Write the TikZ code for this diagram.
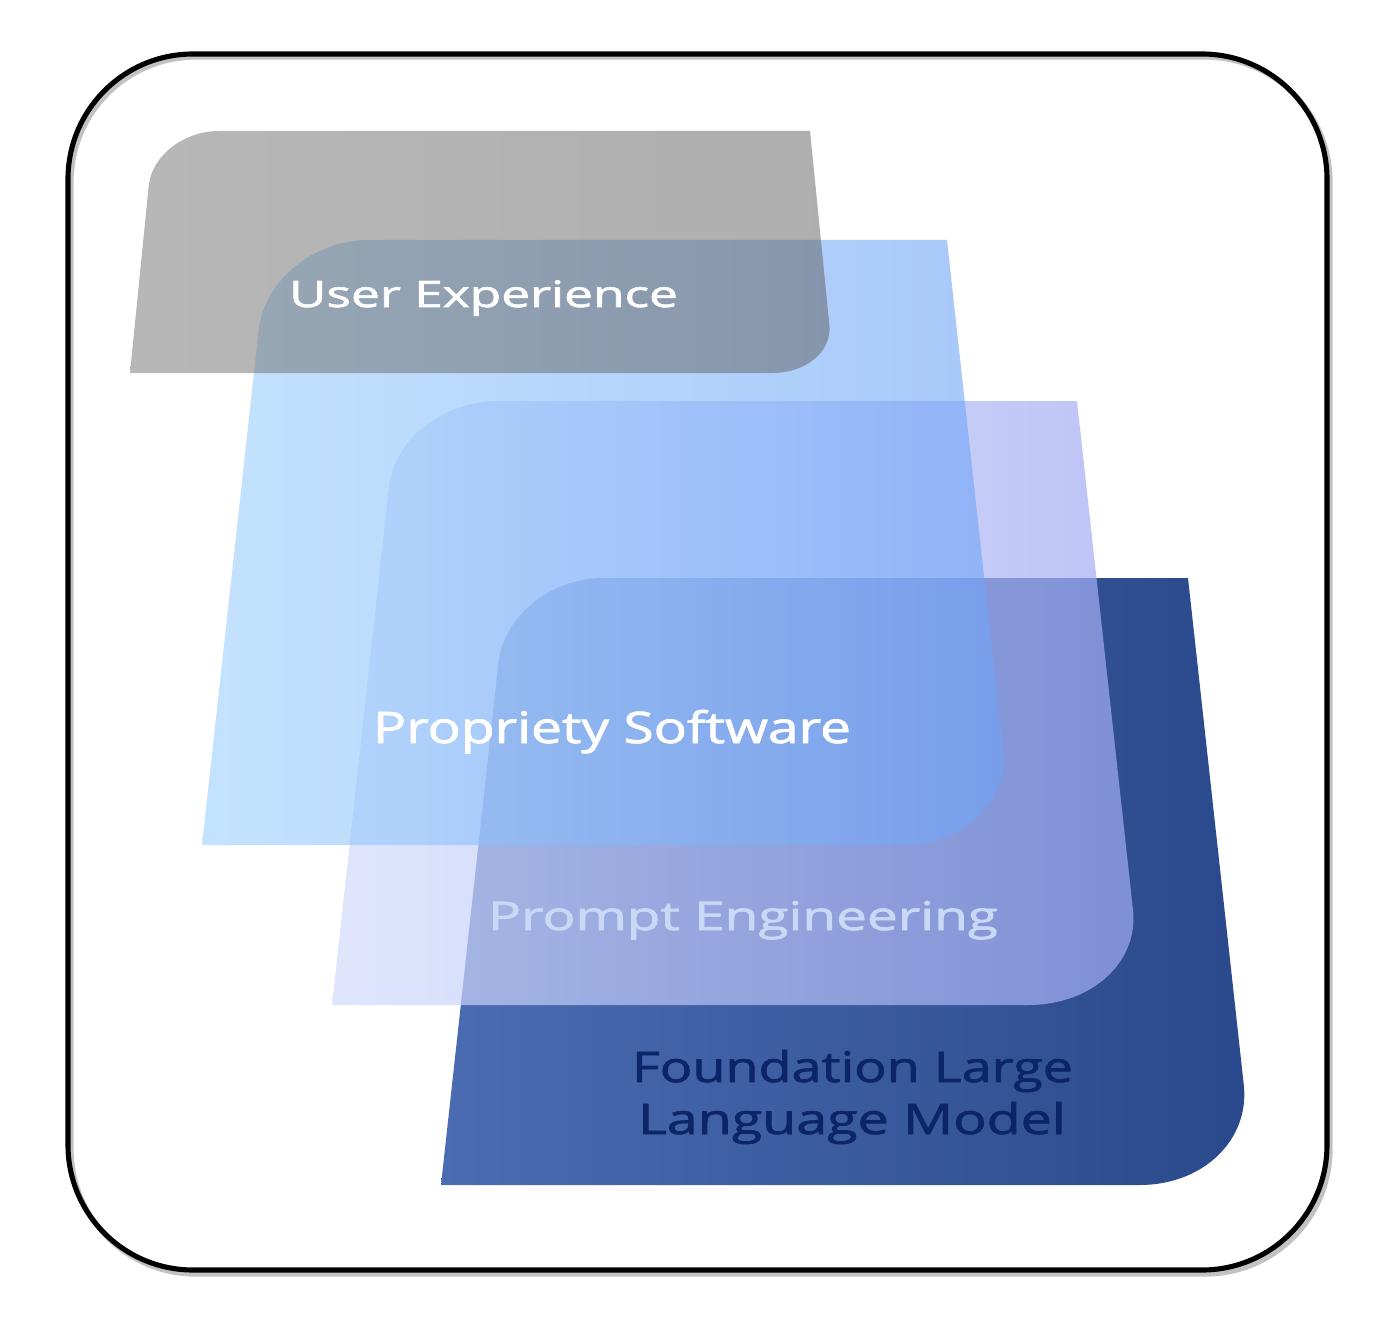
\documentclass[tikz,border=0pt]{standalone}
\usepackage{fontspec}
\usepackage{graphicx}
\usetikzlibrary{calc}
\newfontfamily\labfont{Open Sans}[FakeBold=1.6]
\definecolor{frameshadow}{HTML}{9A9A9A}
\definecolor{gL}{HTML}{717171}
\definecolor{gR}{HTML}{5F5F5F}
\definecolor{bL}{HTML}{9DD0FC}
\definecolor{bR}{HTML}{6EA3F8}
\definecolor{pL}{HTML}{D1DBFB}
\definecolor{pR}{HTML}{A2ACF4}
\definecolor{dL}{HTML}{4B6CB2}
\definecolor{dR}{HTML}{2A498C}
\definecolor{navy}{HTML}{0C2566}
\definecolor{pale}{HTML}{C8D9F6}
\begin{document}
\begin{tikzpicture}[x=0.02cm,y=-0.02cm,
  lab/.style={inner sep=0pt, anchor=base},
  slab/.style={draw=none}]
\fill[white] (0,0) rectangle (1400,1338);
\useasboundingbox (0,0) rectangle (1400,1338);
% outer frame
\draw[frameshadow, line width=3pt, rounded corners=2.5cm, opacity=0.6] (71,57) rectangle (1330,1274);
\draw[black, line width=2.9pt, rounded corners=2.5cm] (68,54) rectangle (1327,1270);

% ---------- layer 4 (dark blue)
\coordinate (dBL) at (441,1185);
\coordinate (dTLc) at (507.8,578);
\coordinate (dP1) at (498.4,663);
\coordinate (dP2) at (602.8,578);
\coordinate (dTR) at (1188,578);
\coordinate (dBRc) at (1254.8,1185);
\coordinate (dQ1) at (1243.8,1085);
\coordinate (dQ2) at (1139.8,1185);
\shade[slab, left color=dL, right color=dR]
  (dBL) -- (dP1) .. controls ($(dP1)!0.55!(dTLc)$) and ($(dP2)!0.55!(dTLc)$) .. (dP2)
  -- (dTR) -- (dQ1) .. controls ($(dQ1)!0.55!(dBRc)$) and ($(dQ2)!0.55!(dBRc)$) .. (dQ2) -- cycle;
\node[lab, text=navy, font=\labfont\fontsize{24}{28}\selectfont] (fl1) at (852.5,1082) {\resizebox{8.82cm}{\height}{Foundation Large}};
\node[lab, text=navy, font=\labfont\fontsize{24}{28}\selectfont] (fl2) at (852,1134) {\resizebox{8.56cm}{\height}{Language Model}};

% ---------- layer 3 (lavender)
\coordinate (pBL) at (332,1005);
\coordinate (pTLc) at (398.4,401);
\coordinate (pP1) at (389.1,486);
\coordinate (pP2) at (498.4,401);
\coordinate (pTR) at (1077,401);
\coordinate (pBRc) at (1143.4,1005);
\coordinate (pQ1) at (1133,910);
\coordinate (pQ2) at (1028.4,1005);
\shade[slab, left color=pL, right color=pR, fill opacity=0.7]
  (pBL) -- (pP1) .. controls ($(pP1)!0.55!(pTLc)$) and ($(pP2)!0.55!(pTLc)$) .. (pP2)
  -- (pTR) -- (pQ1) .. controls ($(pQ1)!0.55!(pBRc)$) and ($(pQ2)!0.55!(pBRc)$) .. (pQ2) -- cycle;
\node[lab, text=pale, font=\labfont\fontsize{22.5}{26}\selectfont] (pe) at (743,930) {\resizebox{10.2cm}{\height}{Prompt Engineering}};

% ---------- layer 2 (light blue)
\coordinate (bBL) at (202,845);
\coordinate (bTLc) at (268.6,240);
\coordinate (bP1) at (258.7,330);
\coordinate (bP2) at (368.6,240);
\coordinate (bTR) at (947,240);
\coordinate (bBRc) at (1013.6,845);
\coordinate (bQ1) at (1003.1,750);
\coordinate (bQ2) at (903.6,845);
\shade[slab, left color=bL, right color=bR, fill opacity=0.6]
  (bBL) -- (bP1) .. controls ($(bP1)!0.55!(bTLc)$) and ($(bP2)!0.55!(bTLc)$) .. (bP2)
  -- (bTR) -- (bQ1) .. controls ($(bQ1)!0.55!(bBRc)$) and ($(bQ2)!0.55!(bBRc)$) .. (bQ2) -- cycle;
\node[lab, text=white, font=\labfont\fontsize{24.7}{28}\selectfont] (ps) at (612,743) {\resizebox{9.56cm}{\height}{Propriety Software}};

% ---------- layer 1 (gray)
\coordinate (gBL) at (130,373);
\coordinate (gTLc) at (154.2,131);
\coordinate (gP1) at (148.7,186);
\coordinate (gP2) at (219.2,131);
\coordinate (gTR) at (810,131);
\coordinate (gBRc) at (834.2,373);
\coordinate (gQ1) at (829.4,325);
\coordinate (gQ2) at (772.2,373);
\shade[slab, left color=gL, right color=gR, fill opacity=0.5]
  (gBL) -- (gP1) .. controls ($(gP1)!0.55!(gTLc)$) and ($(gP2)!0.55!(gTLc)$) .. (gP2)
  -- (gTR) -- (gQ1) .. controls ($(gQ1)!0.55!(gBRc)$) and ($(gQ2)!0.55!(gBRc)$) .. (gQ2) -- cycle;
\node[lab, text=white, font=\labfont\fontsize{20.7}{24}\selectfont] (ux) at (483.5,307) {\resizebox{7.78cm}{\height}{User Experience}};
\end{tikzpicture}
\end{document}
